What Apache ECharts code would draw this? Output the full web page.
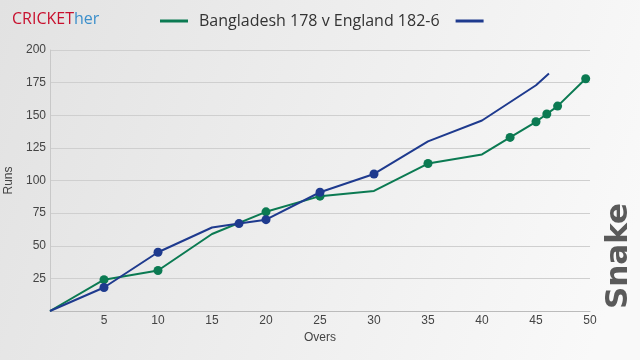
<!DOCTYPE html>
<html><head><meta charset="utf-8">
<script src="https://cdn.jsdelivr.net/npm/echarts@6/dist/echarts.min.js"></script>
<style>html,body{margin:0;padding:0;}#c{width:640px;height:360px;}</style>
</head><body><div id="c"></div>
<script>
const seriesNames = ['Bangladesh 178 v England 182-6', ' '];
const banOvers = [0, 5, 10, 15, 20, 25, 30, 35, 40, 42.6, 45, 46, 47, 49.6];
const banRuns  = [0, 24, 31, 59, 76, 88, 92, 113, 120, 133, 145, 151, 157, 178];
const banWkt   = [0, 1, 1, 0, 1, 1, 0, 1, 0, 1, 1, 1, 1, 1];
const engOvers = [0, 5, 10, 15, 17.5, 20, 25, 30, 35, 40, 45, 46.2];
const engRuns  = [0, 18, 45, 64, 67, 70, 91, 105, 130, 146, 173, 182];
const engWkt   = [0, 1, 1, 0, 1, 1, 1, 1, 0, 0, 0, 0];
const xTicks = [5, 10, 15, 20, 25, 30, 35, 40, 45, 50];
const yTicks = [25, 50, 75, 100, 125, 150, 175, 200];

function build(ov, rn, wk) {
  return ov.map((o, i) => ({
    value: [o, rn[i]],
    symbol: wk[i] ? 'circle' : 'none',
    symbolSize: wk[i] ? 9 : 0
  }));
}
const green = '#0b7a52', blue = '#1e3a8e';
const axisFont = 'Liberation Sans';
const chart = echarts.init(document.getElementById('c'));
chart.setOption({
  animation: false,
  backgroundColor: new echarts.graphic.LinearGradient(0, 0, 1, 0.6, [
    {offset: 0, color: '#e2e2e2'}, {offset: 1, color: '#f9f9f9'}]),
  title: {
    text: '{a|CRICKET}{b|her}', left: 7, top: 6,
    textStyle: { rich: {
      a: {color: '#c8102e', fontSize: 16, fontWeight: 'normal', fontFamily: 'Open Sans'},
      b: {color: '#3b8fcb', fontSize: 16, fontWeight: 'normal', fontFamily: 'Open Sans'} } }
  },
  legend: {
    left: 155, top: 8, itemWidth: 28, itemHeight: 3, itemGap: 16, icon: 'rect',
    data: seriesNames,
    textStyle: {fontSize: 16, color: '#333', fontFamily: 'Open Sans', padding: [0, 0, 0, 6]}
  },
  grid: {left: 50, right: 50, top: 50, bottom: 49, containLabel: false, outerBoundsMode: 'none'},
  xAxis: {
    type: 'value', min: 0, max: 50, interval: 5,
    name: 'Overs', nameLocation: 'middle', nameGap: 20,
    nameTextStyle: {fontSize: 12, color: '#444', fontFamily: axisFont},
    axisLine: {lineStyle: {color: '#bbb'}}, axisTick: {show: false},
    splitLine: {show: false},
    axisLabel: {margin: 4, fontSize: 12, color: '#444', fontFamily: axisFont,
      formatter: v => xTicks.includes(v) ? String(v) : ''}
  },
  yAxis: {
    type: 'value', min: 0, max: 200, interval: 25,
    name: 'Runs', nameLocation: 'middle', nameGap: 29,
    nameTextStyle: {fontSize: 12, color: '#444', fontFamily: axisFont},
    axisLine: {show: true, lineStyle: {color: '#c8c8c8'}}, axisTick: {show: false},
    splitLine: {lineStyle: {color: '#cfcfcf'}},
    axisLabel: {margin: 4, fontSize: 12, color: '#444', fontFamily: axisFont,
      formatter: v => yTicks.includes(v) ? String(v) : ''}
  },
  graphic: [{
    type: 'text', x: 619, y: 256, rotation: Math.PI / 2,
    style: {text: 'Snake', font: 'bold 31px "DejaVu Sans"', fill: '#5a5a5a',
      align: 'center', verticalAlign: 'middle'}
  }],
  series: [
    {name: seriesNames[0], type: 'line', data: build(banOvers, banRuns, banWkt),
     color: green, lineStyle: {width: 2, color: green}, itemStyle: {color: green}, z: 3},
    {name: seriesNames[1], type: 'line', data: build(engOvers, engRuns, engWkt),
     color: blue, lineStyle: {width: 2, color: blue}, itemStyle: {color: blue}, z: 4}
  ]
});
</script></body></html>
